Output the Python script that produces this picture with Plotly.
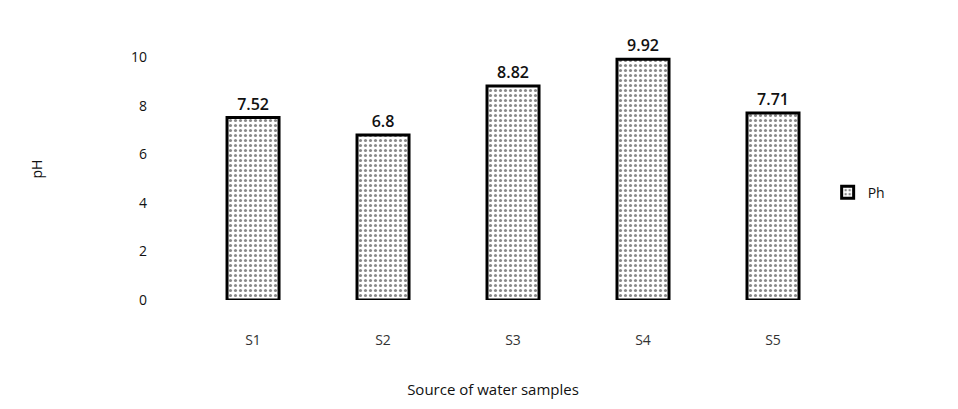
import plotly.graph_objects as go

categories = ["S1", "S2", "S3", "S4", "S5"]
ph_values = [7.52, 6.8, 8.82, 9.92, 7.71]
value_labels = ["7.52", "6.8", "8.82", "9.92", "7.71"]
series_name = "Ph"

FONT = "Open Sans"

fig = go.Figure()
fig.add_trace(go.Bar(
    x=categories,
    y=ph_values,
    name=series_name,
    width=0.4,
    text=value_labels,
    textposition="outside",
    textfont=dict(family=FONT, size=16, color="#111", weight=600),
    cliponaxis=False,
    marker=dict(
        color="white",
        line=dict(color="black", width=3),
        pattern=dict(shape=".", fgcolor="#111", bgcolor="white", size=5, solidity=0.3),
    ),
    showlegend=True,
))

fig.update_layout(
    width=958,
    height=409,
    paper_bgcolor="white",
    plot_bgcolor="white",
    margin=dict(l=140, r=128, t=30, b=117),
    font=dict(family=FONT, size=14, color="#111"),
    xaxis=dict(
        range=[-0.808, 4.5],
        showline=False,
        showgrid=False,
        zeroline=False,
        ticks="",
        ticklabelstandoff=30,
        tickfont=dict(family=FONT, size=14, color="#333"),
        title=dict(text="Source of water samples", font=dict(family=FONT, size=15, color="#111"), standoff=36),
    ),
    yaxis=dict(
        range=[0, 10.8],
        tickvals=[0, 2, 4, 6, 8, 10],
        showline=False,
        showgrid=False,
        zeroline=False,
        ticks="",
        tickfont=dict(family=FONT, size=14, color="#111"),
        title=dict(text="pH", font=dict(family=FONT, size=14, color="#111"), standoff=85),
    ),
    legend=dict(
        x=0.985, xanchor="left",
        y=0.41, yanchor="middle",
        font=dict(family=FONT, size=14, color="#111"),
        itemwidth=30,
    ),
)

fig.write_html("out.html")
